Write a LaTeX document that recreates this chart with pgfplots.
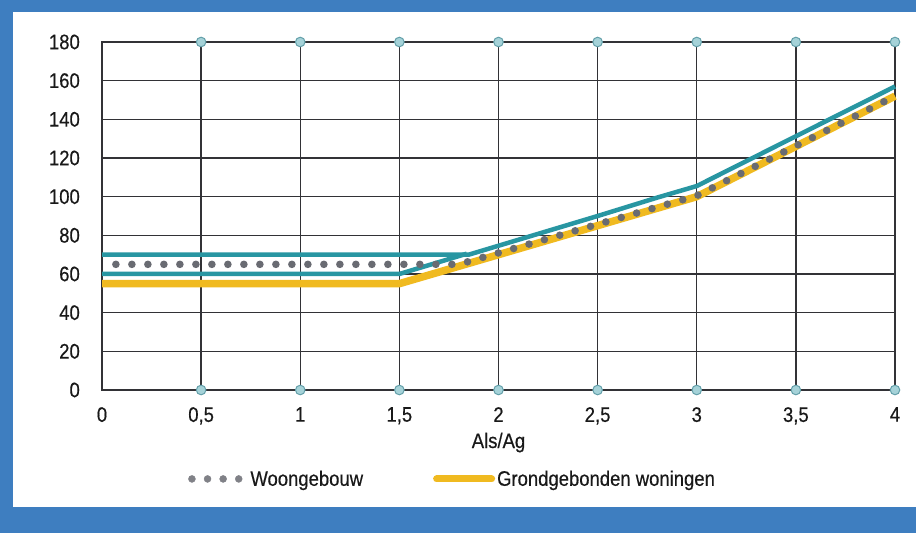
\documentclass[border=0pt]{standalone}
\usepackage{fontspec}
\setmainfont{Liberation Sans}[FakeStretch=0.88,FakeBold=0.4]
\usepackage{pgfplots}
\pgfplotsset{compat=1.18}
\definecolor{frameblue}{RGB}{62,126,192}
\definecolor{tealc}{RGB}{40,150,162}
\definecolor{yel}{RGB}{240,186,32}
\definecolor{dotgray}{RGB}{105,107,114}
\definecolor{circfill}{RGB}{165,210,216}
\definecolor{circdraw}{RGB}{100,160,170}
\definecolor{gridc}{RGB}{50,50,54}
\begin{document}
\begin{tikzpicture}
\fill[frameblue] (0pt,0pt) rectangle (916pt,533pt);
\fill[white] (13pt,26pt) rectangle (916pt,521pt);
\begin{axis}[
  at={(102pt,143pt)}, anchor=south west,
  scale only axis, width=793pt, height=348pt,
  xmin=0, xmax=4, ymin=0, ymax=180,
  xtick={0,0.5,1,1.5,2,2.5,3,3.5,4},
  xticklabels={0,{0,5},1,{1,5},2,{2,5},3,{3,5},4},
  ytick={0,20,...,180},
  grid=major,
  major grid style={draw=gridc, line width=1.4pt},
  axis line style={draw=gridc, line width=1.4pt},
  major tick length=0pt,
  /pgf/number format/assume math mode=true,
  tick label style={font=\fontsize{21}{25}\selectfont, text=black!90, inner sep=0pt},
  yticklabel style={xshift=-22pt},
  xticklabel style={yshift=-17pt},
  xlabel={Als/Ag},
  xlabel style={at={(axis description cs:0.5,0)}, anchor=base, yshift=-58pt, inner sep=0pt, font=\fontsize{21}{25}\selectfont, text=black!90},
  clip=false,
  legend columns=2,
  legend style={draw=none, fill=none, at={(axis cs:0.434,-46)}, anchor=west,
    font=\fontsize{21}{25}\selectfont, text=black!90, inner sep=0pt,
    /tikz/every even column/.append style={column sep=68pt}},
]
% yellow: Grondgebonden woningen
\addplot[forget plot, yel, line width=7.5pt, line join=round] coordinates {(0,55) (1.5,55) (3,100) (4,152)};
% teal band
\addplot[forget plot, tealc, line width=4.5pt, line join=round] coordinates {(0,60) (1.5,60) (1.84,70.5)};
\addplot[forget plot, tealc, line width=4.5pt, line join=round] coordinates {(0,70) (1.85,70) (2.5,90) (2.8,99.5) (3,105.5) (4,157)};
% dotted: Woongebouw
\addplot[forget plot, dotgray, line width=7.6pt, line cap=round, dash pattern=on 0pt off 16pt] coordinates {(0.07,65) (1.8,65) (3,100.5) (4,152)};
% circles on top and bottom
\addplot[forget plot, only marks, mark=*, mark size=4.8pt, mark options={fill=circfill, draw=circdraw, line width=1pt}] coordinates {(0.5,180) (1,180) (1.5,180) (2,180) (2.5,180) (3,180) (3.5,180) (4,180)};
\addplot[forget plot, only marks, mark=*, mark size=4.8pt, mark options={fill=circfill, draw=circdraw, line width=1pt}] coordinates {(0.5,0) (1,0) (1.5,0) (2,0) (2.5,0) (3,0) (3.5,0) (4,0)};
\addlegendimage{legend image code/.code={\foreach \i in {0,1,2,3} {\fill[dotgray!85] (\i*15.6pt+3.5pt,0pt) circle (3.5pt);}}}
\addlegendentry{\hspace{6pt}Woongebouw}
\addlegendimage{legend image code/.code={\draw[yel, line width=7pt, line cap=round] (3pt,0pt) -- (58pt,0pt);}}
\addlegendentry{Grondgebonden woningen}
\end{axis}
\end{tikzpicture}
\end{document}
